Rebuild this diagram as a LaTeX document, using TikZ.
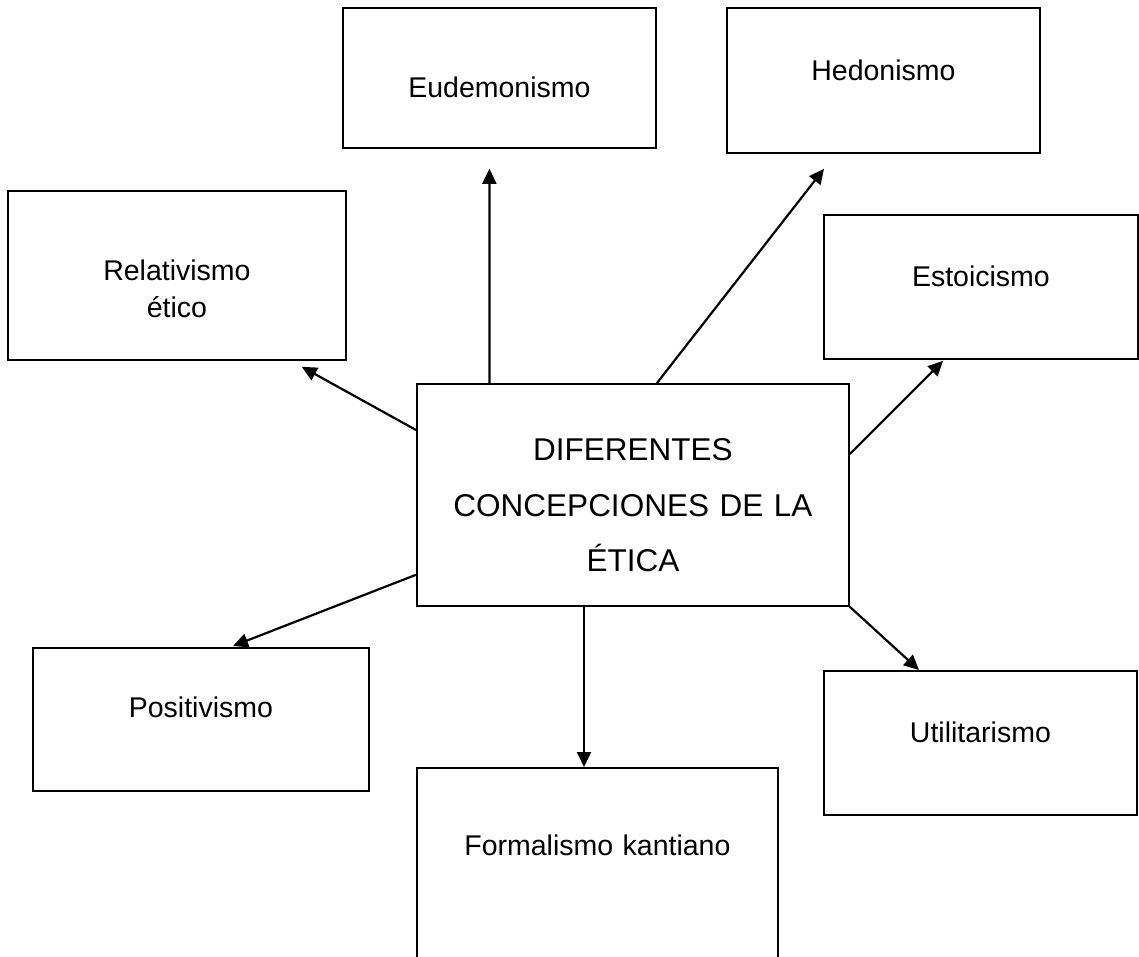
\documentclass[tikz,border=0pt]{standalone}
\usepackage{fontspec}
\setmainfont{Liberation Sans}
\usetikzlibrary{arrows.meta}

\begin{document}
\begin{tikzpicture}[
        x=1pt, y=-1pt,
        caja/.style={draw, rectangle, line width=1.8pt, inner sep=0pt, anchor=north west, align=center, font=\fontsize{28.5}{37}\selectfont},
        caja_centro/.style={caja, font=\fontsize{31.5}{55.5}\selectfont},
        flecha/.style={line width=2.2pt, -{Triangle[length=15pt,width=14pt]}}
        ]
    \clip (0,0) rectangle (1139,957);
    \node[caja_centro, text width=432pt, text height=77pt, text depth=145pt] (ctr) at (416,383) {DIFERENTES\\CONCEPCIONES DE LA\\ÉTICA};
    \node[caja, text width=313pt, text height=90pt, text depth=50pt] (eud) at (342,7) {Eudemonismo};
    \node[caja, text width=313pt, text height=73pt, text depth=72pt] (hed) at (726,7) {Hedonismo};
    \node[caja, text width=338pt, text height=90pt, text depth=79pt] (rel) at (7,190) {Relativismo\\ético};
    \node[caja, text width=314pt, text height=72pt, text depth=72pt] (est) at (823,214) {Estoicismo};
    \node[caja, text width=336pt, text height=70pt, text depth=73pt] (pos) at (32,647) {Positivismo};
    \node[caja, text width=313pt, text height=72pt, text depth=72pt] (uti) at (823,670) {Utilitarismo};
    \node[caja, text width=361pt, text height=88pt, text depth=125pt] (for) at (416,767) {Formalismo kantiano};

    \draw[flecha] ([xshift=73.5pt]ctr.north west) -- ([xshift=-10pt,yshift=-20pt]eud.south);
    \draw[flecha] ([xshift=241pt]ctr.north west) -- ([xshift=98pt,yshift=-15pt]hed.south west);
    \draw[flecha] ([yshift=-47pt]ctr.north west) -- ([xshift=-45pt,yshift=-6pt]rel.south east);
    \draw[flecha] ([yshift=-71pt]ctr.north east) -- ([xshift=120pt,yshift=-1pt]est.south west);
    \draw[flecha] ([yshift=32pt]ctr.south west) -- ([xshift=201pt,yshift=1pt]pos.north west);
    \draw[flecha] ([xshift=168pt]ctr.south west) -- ([xshift=168pt]for.north west);
    \draw[flecha] (ctr.south east) -- ([xshift=96pt]uti.north west);
\end{tikzpicture}
\end{document}
